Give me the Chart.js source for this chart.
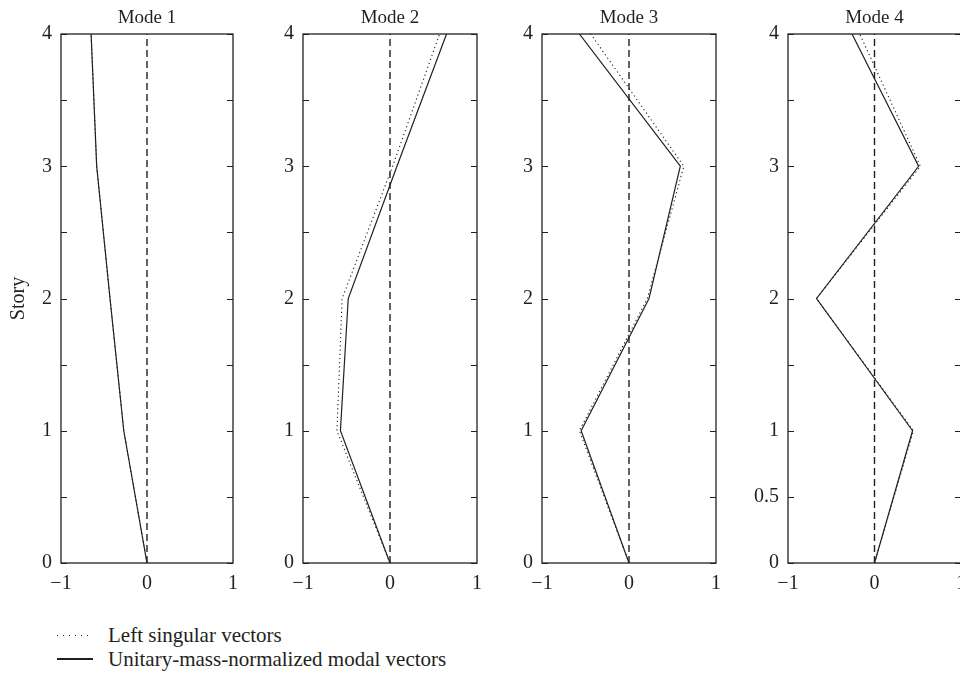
<!DOCTYPE html>
<html lang="en">
<head>
    <meta charset="UTF-8">
    <title>Modal vectors by story</title>
    <script src="https://cdn.jsdelivr.net/npm/chart.js"></script>
    <style>
        body {
            margin: 0;
            width: 960px;
            height: 676px;
            overflow: hidden;
            background: #ffffff;
            position: relative;
            font-family: "Liberation Serif", "DejaVu Serif", serif;
            color: #231f20;
        }
        canvas {
            position: absolute;
            top: 0;
        }
        #legend {
            position: absolute;
            left: 57px;
            top: 623px;
            font-size: 21px;
        }
        .row {
            display: flex;
            align-items: center;
            height: 24px;
        }
        .sample {
            display: inline-block;
            width: 36px;
            height: 1px;
            margin-right: 15px;
        }
        .dots {
            background: repeating-linear-gradient(to right, #231f20 0 1px, transparent 1px 6px);
        }
        .solid {
            height: 1.5px;
            background: #231f20;
        }
    </style>
</head>
<body>
    <canvas id="mode1" width="248" height="620"></canvas>
    <canvas id="mode2" width="229" height="620"></canvas>
    <canvas id="mode3" width="229" height="620"></canvas>
    <canvas id="mode4" width="228" height="620"></canvas>

    <div id="legend">
        <div class="row"><span class="sample dots"></span>Left singular vectors</div>
        <div class="row"><span class="sample solid"></span>Unitary-mass-normalized modal vectors</div>
    </div>

    <script>
        // Story levels (y) shared by every mode shape
        const stories = [0, 1, 2, 3, 4];
        const modeTitles = ['Mode 1', 'Mode 2', 'Mode 3', 'Mode 4'];

        // Unitary-mass-normalized modal vectors (solid)
        const modal1 = [0, -0.27, -0.43, -0.585, -0.65];
        const modal2 = [0, -0.57, -0.48, 0.08, 0.65];
        const modal3 = [0, -0.55, 0.23, 0.59, -0.57];
        const modal4 = [0, 0.44, -0.67, 0.51, -0.26];

        // Left singular vectors (dotted)
        const singular1 = [0, -0.27, -0.43, -0.585, -0.65];
        const singular2 = [0, -0.61, -0.55, 0.03, 0.57];
        const singular3 = [0, -0.57, 0.21, 0.63, -0.44];
        const singular4 = [0, 0.45, -0.67, 0.53, -0.17];

        // dashed reference line at x = 0
        const zeroX = [0, 0];
        const zeroY = [0, 4];

        const xTicks = [-1, 0, 1];
        const yLabels = [0, 1, 2, 3, 4];
        const yLabelsMode4 = [0, 0.5, 1, 2, 3, 4];

        const ink = '#231f20';
        const fontFamily = '"Liberation Serif", "DejaVu Serif", serif';

        // frame box and inward y ticks on both sides
        const framePlugin = {
            id: 'frame',
            afterDraw(chart) {
                const ctx = chart.ctx;
                const a = chart.chartArea;
                const y = chart.scales.y;
                ctx.save();
                ctx.strokeStyle = ink;
                ctx.lineWidth = 1.3;
                ctx.strokeRect(a.left, a.top, a.right - a.left, a.bottom - a.top);
                ctx.lineWidth = 1;
                y.ticks.forEach(t => {
                    const py = Math.round(y.getPixelForValue(t.value)) + 0.5;
                    ctx.beginPath();
                    ctx.moveTo(a.left, py);
                    ctx.lineTo(a.left + 6, py);
                    ctx.moveTo(a.right, py);
                    ctx.lineTo(a.right - 6, py);
                    ctx.stroke();
                });
                ctx.restore();
            }
        };

        function toPoints(xs, ys) {
            return xs.map((x, i) => ({ x: x, y: ys[i] }));
        }

        function makePanel(id, title, left, axisWidth, areaWidth, modal, singular, labels, showStory) {
            const canvas = document.getElementById(id);
            canvas.style.left = left + 'px';
            const padLeft = showStory ? 3 : 0;
            canvas.width = padLeft + axisWidth + areaWidth + 15;

            new Chart(canvas.getContext('2d'), {
                type: 'scatter',
                data: {
                    datasets: [
                        {
                            data: toPoints(zeroX, zeroY),
                            showLine: true,
                            borderColor: ink,
                            borderWidth: 1.4,
                            borderDash: [7, 4],
                            pointRadius: 0
                        },
                        {
                            data: toPoints(singular, stories),
                            showLine: true,
                            borderColor: ink,
                            borderWidth: 1.1,
                            borderDash: [1.2, 3],
                            pointRadius: 0
                        },
                        {
                            data: toPoints(modal, stories),
                            showLine: true,
                            borderColor: ink,
                            borderWidth: 1.2,
                            pointRadius: 0
                        }
                    ]
                },
                options: {
                    responsive: false,
                    animation: false,
                    layout: {
                        padding: { left: padLeft, right: 15, top: 0, bottom: 27 }
                    },
                    plugins: {
                        legend: { display: false },
                        tooltip: { enabled: false },
                        title: {
                            display: true,
                            text: title,
                            fullSize: false,
                            color: ink,
                            font: { family: fontFamily, size: 19, weight: 'normal' },
                            padding: { top: 7, bottom: 4.2 }
                        }
                    },
                    scales: {
                        x: {
                            type: 'linear',
                            min: -1,
                            max: 1,
                            afterFit: s => { s.height = 30; },
                            afterBuildTicks: s => { s.ticks = xTicks.map(v => ({ value: v })); },
                            grid: { display: false, drawTicks: false },
                            border: { display: false },
                            ticks: {
                                color: ink,
                                padding: 9,
                                maxRotation: 0,
                                font: { family: fontFamily, size: 20 },
                                callback: v => (v < 0 ? '\u2212' + Math.abs(v) : String(v))
                            }
                        },
                        y: {
                            type: 'linear',
                            min: 0,
                            max: 4,
                            afterFit: s => { s.width = axisWidth; },
                            grid: { display: false, drawTicks: false },
                            border: { display: false },
                            title: {
                                display: showStory,
                                text: 'Story',
                                color: ink,
                                font: { family: fontFamily, size: 20 }
                            },
                            ticks: {
                                stepSize: 0.5,
                                autoSkip: false,
                                color: ink,
                                padding: 9,
                                font: { family: fontFamily, size: 20 },
                                callback: v => (labels.includes(v) ? String(v) : '')
                            }
                        }
                    }
                },
                plugins: [framePlugin]
            });
        }

        makePanel('mode1', modeTitles[0], 0, 58, 172, modal1, singular1, yLabels, true);
        makePanel('mode2', modeTitles[1], 263, 40, 174, modal2, singular2, yLabels, false);
        makePanel('mode3', modeTitles[2], 502, 40, 174, modal3, singular3, yLabels, false);
        makePanel('mode4', modeTitles[3], 748, 40, 173, modal4, singular4, yLabelsMode4, false);
    </script>
</body>
</html>
